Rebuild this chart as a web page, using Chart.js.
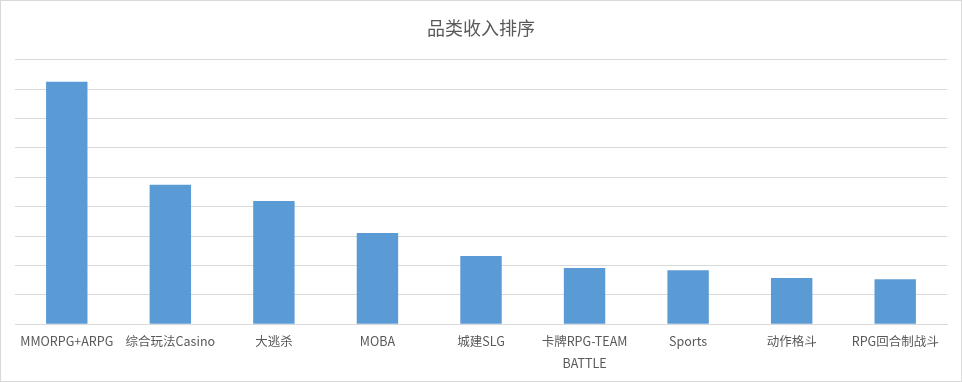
<!DOCTYPE html>
<html>
<head>
<meta charset="utf-8">
<script src="https://cdn.jsdelivr.net/npm/chart.js@4/dist/chart.umd.min.js"></script>
<style>
  html, body { margin: 0; padding: 0; background: #fff; }
  #wrap { position: relative; width: 960px; height: 380px; border: 1px solid #d9d9d9; }
</style>
</head>
<body>
<div id="wrap"><canvas id="c"></canvas></div>
<script>
const categories = ["MMORPG+ARPG", "综合玩法Casino", "大逃杀", "MOBA", "城建SLG", ["卡牌RPG-TEAM", "BATTLE"], "Sports", "动作格斗", "RPG回合制战斗"];
const revenue = [8.25, 4.74, 4.19, 3.10, 2.32, 1.91, 1.84, 1.57, 1.53];
const titleText = "品类收入排序";

new Chart(document.getElementById('c'), {
  type: 'bar',
  data: {
    labels: categories,
    datasets: [{
      data: revenue,
      backgroundColor: '#5b9bd5',
      barPercentage: 0.4,
      categoryPercentage: 1.0
    }]
  },
  options: {
    responsive: true,
    maintainAspectRatio: false,
    animation: false,
    layout: { padding: { left: 14, right: 14, top: 0, bottom: 9 } },
    plugins: {
      legend: { display: false },
      tooltip: { enabled: false },
      title: {
        display: true,
        text: titleText,
        color: '#595959',
        font: { family: '"Noto Sans CJK SC", "Noto Sans", sans-serif', size: 18, weight: 'normal' },
        padding: { top: 16, bottom: 21 }
      }
    },
    scales: {
      x: {
        grid: { display: false },
        border: { color: '#d9d9d9', width: 1 },
        ticks: {
          color: '#595959',
          font: { family: '"Noto Sans CJK SC", "Noto Sans", sans-serif', size: 12.5, lineHeight: 1.75 },
          autoSkip: false,
          maxRotation: 0,
          minRotation: 0,
          padding: -2
        }
      },
      y: {
        min: 0,
        max: 9,
        ticks: { display: false, stepSize: 1 },
        border: { display: false },
        grid: { color: '#d9d9d9', lineWidth: 1, drawTicks: false }
      }
    }
  }
});
</script>
</body>
</html>
